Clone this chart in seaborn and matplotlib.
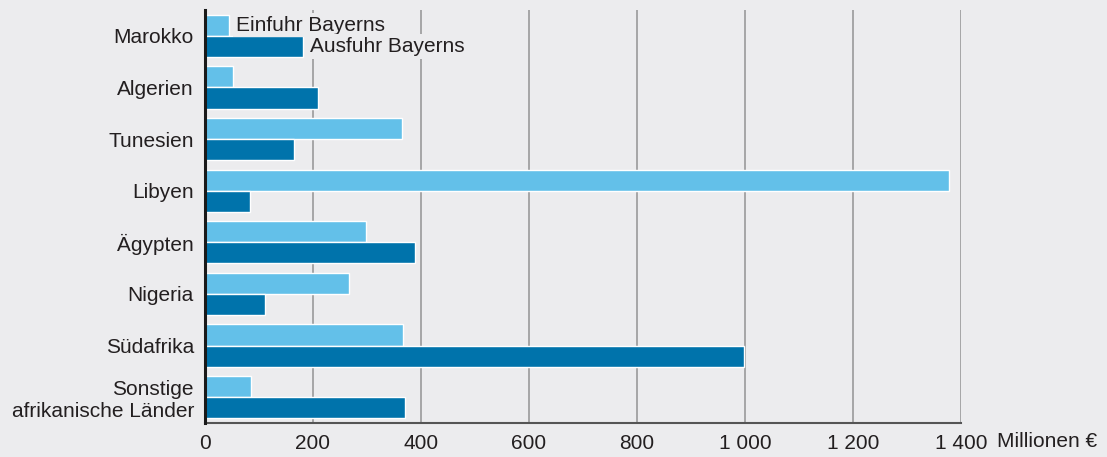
import matplotlib
matplotlib.use("Agg")
import matplotlib.pyplot as plt
import seaborn as sns
import pandas as pd

countries = ["Marokko", "Algerien", "Tunesien", "Libyen", "Ägypten", "Nigeria",
             "Südafrika", "Sonstige\nafrikanische Länder"]
einfuhr = [44, 51, 364, 1378, 298, 267, 367, 85]
ausfuhr = [181, 209, 165, 84, 388, 112, 999, 371]
series = ["Einfuhr Bayerns", "Ausfuhr Bayerns"]
xticks = [0, 200, 400, 600, 800, 1000, 1200, 1400]
xticklabels = ["0", "200", "400", "600", "800", "1 000", "1 200", "1 400"]
unit = "Millionen €"

BG = "#ECECEE"
C_IN = "#63C0E9"
C_OUT = "#0073AB"
TXT = "#231F20"
FS = 15

df = pd.DataFrame({
    "Land": countries * 2,
    "Wert": einfuhr + ausfuhr,
    "Serie": [series[0]] * len(countries) + [series[1]] * len(countries),
})

sns.set_style("white")
plt.rcParams["font.family"] = ["Liberation Sans", "DejaVu Sans"]

fig = plt.figure(figsize=(11.07, 4.57), dpi=100, facecolor=BG)
ax = fig.add_axes([205 / 1107, 34 / 457, (961 - 205) / 1107, (423 - 10) / 457])
ax.set_facecolor(BG)

sns.barplot(data=df, y="Land", x="Wert", hue="Serie", orient="h",
            palette=[C_IN, C_OUT], saturation=1, width=0.82, edgecolor="white",
            linewidth=1.0, legend=False, ax=ax, zorder=3)

ax.set_xlim(0, 1400)
ax.set_ylim(7.5, -0.5)
ax.set_xticks(xticks)
ax.set_xticklabels(xticklabels, fontsize=FS, color=TXT)
ax.tick_params(axis="y", length=0, pad=8, labelsize=FS, labelcolor=TXT)
ax.tick_params(axis="x", length=6, width=1.2, color="#555555", pad=2)
for lbl in ax.get_yticklabels():
    lbl.set_horizontalalignment("right")
    lbl.set_multialignment("right")
ax.set_xlabel("")
ax.set_ylabel("")

ax.xaxis.grid(True, color="#9A9A9A", linewidth=1.2, zorder=0)
ax.set_axisbelow(True)

for s in ["top", "right"]:
    ax.spines[s].set_visible(False)
ax.spines["left"].set_color("#1A1A1A")
ax.spines["left"].set_linewidth(2.2)
ax.spines["left"].set_zorder(5)
ax.spines["bottom"].set_color("#555555")
ax.spines["bottom"].set_linewidth(1.5)

# direct labels next to the Marokko bars
bb = dict(facecolor=BG, edgecolor="none", pad=2)
ax.text(einfuhr[0] + 13, -0.205, series[0], fontsize=FS, color=TXT,
        va="center", ha="left", bbox=bb, zorder=4)
ax.text(ausfuhr[0] + 13, 0.205, series[1], fontsize=FS, color=TXT,
        va="center", ha="left", bbox=bb, zorder=4)

ax.annotate(unit, xy=(1, 0), xycoords="axes fraction", xytext=(26, -6.6),
            textcoords="offset points", ha="left", va="top", fontsize=FS, color=TXT,
            annotation_clip=False)

fig.savefig("out.png", dpi=100, facecolor=BG)
